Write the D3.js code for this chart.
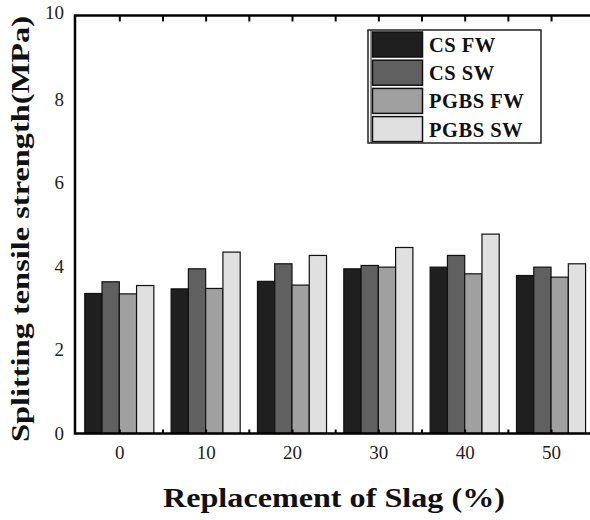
<!DOCTYPE html>
<html><head><meta charset="utf-8">
<script src="https://cdn.jsdelivr.net/npm/d3@7"></script>
<style>body{margin:0;background:#fff}svg{display:block}</style>
</head><body>
<script>
const categories = [0, 10, 20, 30, 40, 50];
const seriesNames = ["CS FW", "CS SW", "PGBS FW", "PGBS SW"];
const csFW = [3.35, 3.46, 3.64, 3.94, 3.98, 3.78];
const csSW = [3.63, 3.94, 4.06, 4.02, 4.26, 3.98];
const pgbsFW = [3.34, 3.47, 3.55, 3.98, 3.82, 3.74];
const pgbsSW = [3.54, 4.34, 4.26, 4.45, 4.77, 4.06];
const yTicks = [0, 2, 4, 6, 8, 10];
const xMajorTicks = [0, 10, 20, 30, 40, 50];
const xMinorTicks = [5, 15, 25, 35, 45, 55];

const series = [csFW, csSW, pgbsFW, pgbsSW];
const colors = ["#1f1f1f", "#606060", "#a0a0a0", "#e0e0e0"];
const W = 590, H = 520;
const L = 75, R = 600, T = 15.5, B = 433.5;
const font = "'Liberation Serif','Times New Roman',serif";

const svg = d3.select("body").append("svg").attr("width", W).attr("height", H);
svg.append("rect").attr("width", W).attr("height", H).attr("fill", "#fff");

const x = d3.scaleLinear().domain([-5.13, 55.67]).range([L, R]);
const y = d3.scaleLinear().domain([0, 10]).range([B, T]);
const barW = 2; // in x units
const offsets = [-4, -2, 0, 2];

// bars
series.forEach((vals, si) => {
  svg.append("g").selectAll("rect").data(vals).join("rect")
    .attr("x", (d, i) => x(categories[i] + offsets[si]))
    .attr("width", (d, i) => x(categories[i] + offsets[si] + barW) - x(categories[i] + offsets[si]))
    .attr("y", d => y(d))
    .attr("height", d => y(0) - y(d))
    .attr("fill", colors[si])
    .attr("stroke", "#111")
    .attr("stroke-width", 1.2);
});

// frame
svg.append("path")
  .attr("d", `M${R},${T}H${L}V${B}H${R}`)
  .attr("fill", "none").attr("stroke", "#000").attr("stroke-width", 2.5);

// top ticks
const topAxis = d3.axisTop(x).tickValues(xMajorTicks.concat(xMinorTicks)).tickSize(-6).tickFormat("");
const gTop = svg.append("g").attr("transform", `translate(0,${T})`).call(topAxis);
gTop.select(".domain").remove();
gTop.selectAll("line").attr("stroke-width", 2);

// bottom ticks
const botAxis = d3.axisBottom(x).tickValues(xMajorTicks).tickSize(-4).tickPadding(12.5);
const gBot = svg.append("g").attr("transform", `translate(0,${B})`).call(botAxis);
gBot.select(".domain").remove();
gBot.selectAll("line").attr("stroke-width", 2);
gBot.selectAll("text").attr("font-family", font).attr("font-size", 19).attr("fill", "#222");
const botMinor = d3.axisBottom(x).tickValues(xMinorTicks).tickSize(-4).tickFormat("");
const gBotM = svg.append("g").attr("transform", `translate(0,${B})`).call(botMinor);
gBotM.select(".domain").remove();
gBotM.selectAll("line").attr("stroke-width", 2);

// left axis labels
const leftAxis = d3.axisLeft(y).tickValues(yTicks).tickSize(0).tickPadding(11);
const gLeft = svg.append("g").attr("transform", `translate(${L},0)`).call(leftAxis);
gLeft.select(".domain").remove();
gLeft.selectAll("text").attr("font-family", font).attr("font-size", 19).attr("fill", "#222")
  .attr("dy", d => d === 10 ? "0.14em" : "0.32em");

// axis titles
svg.append("text")
  .attr("x", 334).attr("y", 507)
  .attr("text-anchor", "middle")
  .attr("font-family", font).attr("font-weight", "bold").attr("font-size", 27)
  .attr("textLength", 342).attr("lengthAdjust", "spacingAndGlyphs")
  .attr("fill", "#111")
  .text("Replacement of Slag (%)");

svg.append("text")
  .attr("transform", "translate(29,229) rotate(-90)")
  .attr("text-anchor", "middle")
  .attr("font-family", font).attr("font-weight", "bold").attr("font-size", 25)
  .attr("textLength", 426).attr("lengthAdjust", "spacingAndGlyphs")
  .attr("fill", "#111")
  .text("Splitting tensile strength(MPa)");

// legend
const lg = svg.append("g").attr("transform", "translate(368,30)");
lg.append("rect").attr("width", 173).attr("height", 113)
  .attr("fill", "#fff").attr("stroke", "#222").attr("stroke-width", 1.5);
lg.append("line").attr("x1", 3).attr("x2", 3).attr("y1", 0).attr("y2", 113)
  .attr("stroke", "#222").attr("stroke-width", 1);
seriesNames.forEach((name, i) => {
  const row = lg.append("g").attr("transform", `translate(0,${2 + i * 28.2})`);
  row.append("rect").attr("x", 4.5).attr("y", 0).attr("width", 50).attr("height", 25)
    .attr("fill", colors[i]).attr("stroke", "#111").attr("stroke-width", 1.5);
  row.append("text").attr("x", 61).attr("y", 20)
    .attr("font-family", font).attr("font-weight", "bold").attr("font-size", 20.5)
    .attr("letter-spacing", 0.5).attr("fill", "#111")
    .text(name);
});
</script>
</body></html>
